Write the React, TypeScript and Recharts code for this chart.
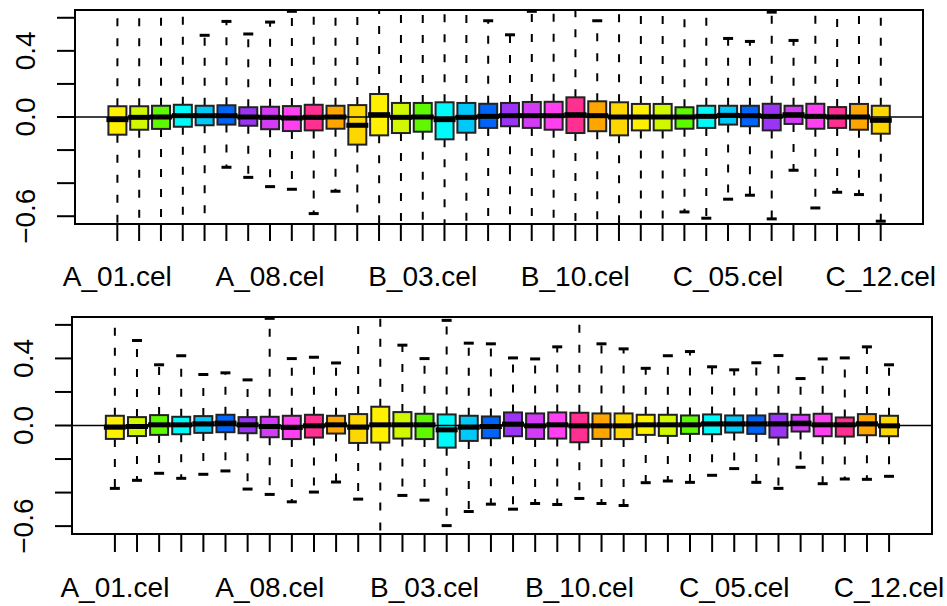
import React from 'react';
import { ComposedChart, Bar, XAxis, YAxis, ReferenceLine, ReferenceArea } from 'recharts';

const samples = [
  'A_01.cel', 'A_02.cel', 'A_03.cel', 'A_04.cel', 'A_05.cel', 'A_06.cel', 'A_07.cel', 'A_08.cel', 'A_09.cel', 'A_10.cel', 'A_11.cel', 'A_12.cel',
  'B_01.cel', 'B_02.cel', 'B_03.cel', 'B_04.cel', 'B_05.cel', 'B_06.cel', 'B_07.cel', 'B_08.cel', 'B_09.cel', 'B_10.cel', 'B_11.cel', 'B_12.cel',
  'C_01.cel', 'C_02.cel', 'C_03.cel', 'C_04.cel', 'C_05.cel', 'C_06.cel', 'C_07.cel', 'C_08.cel', 'C_09.cel', 'C_10.cel', 'C_11.cel', 'C_12.cel',
];
const shownSamples = ['A_01.cel', 'A_08.cel', 'B_03.cel', 'B_10.cel', 'C_05.cel', 'C_12.cel'];
const boxColors = ['#FFF000', '#D2F800', '#5EF800', '#00FAFA', '#00C8F8', '#0064F8', '#9B35F5', '#D23CF5', '#FF40F0', '#FF3090', '#FFA500', '#FFD700'];

const yTicks = [-0.6, -0.4, -0.2, 0, 0.2, 0.4, 0.6];
const yLabelValues = [0.4, 0, -0.6];
const yLabelTexts = ['0.4', '0.0', '\u22120.6'];

// Panel 1 (top)
const max1 = [0.7, 0.7, 0.7, 0.7, 0.494, 0.578, 0.502, 0.574, 0.639, 0.7, 0.7, 0.7, 0.7, 0.7, 0.7, 0.7, 0.7, 0.582, 0.497, 0.639, 0.7, 0.7, 0.582, 0.7, 0.7, 0.7, 0.7, 0.7, 0.475, 0.457, 0.634, 0.463, 0.7, 0.7, 0.7, 0.7];
const q3_1 = [0.065, 0.065, 0.068, 0.074, 0.068, 0.071, 0.059, 0.062, 0.066, 0.074, 0.068, 0.072, 0.139, 0.085, 0.085, 0.089, 0.085, 0.080, 0.085, 0.091, 0.092, 0.119, 0.095, 0.089, 0.079, 0.079, 0.059, 0.068, 0.068, 0.068, 0.080, 0.068, 0.080, 0.060, 0.079, 0.068];
const med1 = [-0.016, -0.002, 0, 0.008, 0.008, 0.008, 0, -0.002, -0.006, -0.002, 0, -0.05, 0.014, -0.002, 0, -0.016, -0.002, 0.004, 0.008, 0.008, 0.008, 0.014, 0.008, 0, 0, 0, 0, 0.004, 0.01, 0.008, 0.004, 0.014, 0.004, 0, 0, -0.02];
const q1_1 = [-0.107, -0.077, -0.072, -0.059, -0.050, -0.046, -0.053, -0.074, -0.085, -0.081, -0.071, -0.167, -0.111, -0.097, -0.089, -0.135, -0.095, -0.066, -0.056, -0.066, -0.077, -0.097, -0.086, -0.111, -0.081, -0.081, -0.071, -0.066, -0.046, -0.056, -0.081, -0.042, -0.071, -0.066, -0.077, -0.101];
const min1 = [-0.7, -0.7, -0.7, -0.7, -0.7, -0.304, -0.365, -0.421, -0.437, -0.584, -0.449, -0.7, -0.7, -0.7, -0.7, -0.7, -0.7, -0.7, -0.7, -0.7, -0.7, -0.7, -0.7, -0.7, -0.7, -0.7, -0.574, -0.612, -0.497, -0.473, -0.616, -0.322, -0.55, -0.455, -0.469, -0.63];

// Panel 2 (bottom)
const max2 = [0.7, 0.507, 0.362, 0.416, 0.304, 0.314, 0.272, 0.639, 0.399, 0.407, 0.373, 0.7, 0.7, 0.479, 0.399, 0.627, 0.491, 0.487, 0.403, 0.397, 0.469, 0.7, 0.487, 0.457, 0.341, 0.416, 0.441, 0.35, 0.332, 0.374, 0.417, 0.28, 0.397, 0.403, 0.469, 0.362];
const q3_2 = [0.058, 0.05, 0.062, 0.052, 0.056, 0.064, 0.05, 0.052, 0.058, 0.064, 0.058, 0.068, 0.112, 0.08, 0.07, 0.066, 0.058, 0.054, 0.078, 0.072, 0.078, 0.076, 0.072, 0.072, 0.064, 0.064, 0.06, 0.066, 0.06, 0.06, 0.07, 0.064, 0.07, 0.048, 0.068, 0.058];
const med2 = [-0.01, -0.006, 0.004, 0.004, 0.01, 0.014, 0.004, -0.006, -0.012, -0.002, 0.004, -0.01, 0.004, 0.004, 0.004, -0.026, -0.01, -0.006, 0.008, -0.002, 0.004, -0.002, -0.002, -0.002, 0.004, 0.004, 0.004, 0.01, 0.01, 0.01, 0.01, 0.014, 0.004, 0.004, 0.01, -0.002];
const q1_2 = [-0.08, -0.063, -0.056, -0.052, -0.044, -0.04, -0.046, -0.07, -0.081, -0.072, -0.048, -0.104, -0.102, -0.078, -0.081, -0.132, -0.092, -0.076, -0.064, -0.08, -0.078, -0.1, -0.08, -0.081, -0.056, -0.062, -0.05, -0.052, -0.042, -0.05, -0.072, -0.036, -0.064, -0.066, -0.058, -0.064];
const min2 = [-0.375, -0.327, -0.285, -0.315, -0.291, -0.271, -0.379, -0.411, -0.455, -0.397, -0.337, -0.439, -0.7, -0.417, -0.445, -0.597, -0.513, -0.469, -0.499, -0.465, -0.471, -0.435, -0.465, -0.477, -0.341, -0.331, -0.339, -0.297, -0.257, -0.339, -0.375, -0.249, -0.347, -0.319, -0.321, -0.303];

const X_DOMAIN: [number, number] = [-0.94, 37.94];
const Y_DOMAIN: [number, number] = [-0.647, 0.647];
const FONT = "'Liberation Sans', Arial, Helvetica, sans-serif";

const positions = samples.map((_, i) => i + 1);

function buildRows(mins: number[], q1s: number[], meds: number[], q3s: number[], maxs: number[]) {
  return samples.map((name, i) => ({
    pos: i + 1,
    name,
    idx: i,
    range: [mins[i], maxs[i]],
    q1: q1s[i],
    med: meds[i],
    q3: q3s[i],
  }));
}

const rows1 = buildRows(min1, q1_1, med1, q3_1, max1);
const rows2 = buildRows(min2, q1_2, med2, q3_2, max2);

function BoxShape(props: any) {
  const { x, y, width, height, payload } = props;
  if (!payload || x == null || y == null) return <g />;
  const [lo, hi] = payload.range;
  const top = Math.min(y, y + height);
  const bottom = Math.max(y, y + height);
  const px = (v: number) => top + ((hi - v) / (hi - lo)) * (bottom - top);
  const cx = x + width / 2;
  const yq3 = px(payload.q3);
  const yq1 = px(payload.q1);
  const ymed = px(payload.med);
  const capHalf = 5;
  const color = boxColors[payload.idx % boxColors.length];
  return (
    <g>
      <line x1={cx} y1={yq3} x2={cx} y2={top} stroke="#000" strokeWidth={2} strokeDasharray="8 12" />
      <line x1={cx} y1={yq1} x2={cx} y2={bottom} stroke="#000" strokeWidth={2} strokeDasharray="8 12" />
      <line x1={cx - capHalf} y1={top} x2={cx + capHalf} y2={top} stroke="#000" strokeWidth={3} />
      <line x1={cx - capHalf} y1={bottom} x2={cx + capHalf} y2={bottom} stroke="#000" strokeWidth={3} />
      <rect x={x} y={yq3} width={width} height={yq1 - yq3} fill={color} stroke="#222" strokeWidth={2} />
      <rect x={x - 2} y={ymed - 2.5} width={width + 4} height={5} fill="#000" />
    </g>
  );
}

function XTick(props: any) {
  const { x, y, payload } = props;
  const label = samples[Math.round(payload.value) - 1];
  if (!shownSamples.includes(label)) return <g />;
  return (
    <text x={x} y={y + 45} textAnchor="middle" fontSize={28} fontFamily={FONT} fill="#000">
      {label}
    </text>
  );
}

function YTick(props: any) {
  const { x, y, payload } = props;
  const k = yLabelValues.findIndex((v) => Math.abs(v - payload.value) < 1e-9);
  if (k < 0) return <g />;
  const bx = x - 22;
  return (
    <text
      x={bx}
      y={y}
      transform={`rotate(-90, ${bx}, ${y})`}
      textAnchor="middle"
      fontSize={28}
      fontFamily={FONT}
      fill="#000"
    >
      {yLabelTexts[k]}
    </text>
  );
}

function Panel(props: { rows: any[]; height: number; margin: any; yWidth: number; xHeight: number; barSize: number; xTickSize: number; yTickSize: number }) {
  const { rows, height, margin, yWidth, xHeight, barSize, xTickSize, yTickSize } = props;
  return (
    <ComposedChart width={947} height={height} data={rows} margin={margin} style={{ display: 'block' }}>
      <XAxis
        dataKey="pos"
        type="number"
        domain={X_DOMAIN}
        allowDataOverflow
        ticks={positions}
        interval={0}
        tickSize={xTickSize}
        tickMargin={0}
        axisLine={false}
        tickLine={{ stroke: '#000', strokeWidth: 2 }}
        tick={<XTick />}
        height={xHeight}
      />
      <YAxis
        type="number"
        domain={Y_DOMAIN}
        allowDataOverflow
        ticks={yTicks}
        interval={0}
        tickSize={yTickSize}
        tickMargin={0}
        axisLine={false}
        tickLine={{ stroke: '#000', strokeWidth: 2 }}
        tick={<YTick />}
        width={yWidth}
      />
      <ReferenceLine y={0} stroke="#000" strokeWidth={1.3} ifOverflow="hidden" />
      <Bar dataKey="range" barSize={barSize} shape={<BoxShape />} isAnimationActive={false} />
      <ReferenceArea
        x1={X_DOMAIN[0]}
        x2={X_DOMAIN[1]}
        y1={Y_DOMAIN[0]}
        y2={Y_DOMAIN[1]}
        fill="none"
        fillOpacity={0}
        stroke="#000"
        strokeWidth={2}
        ifOverflow="visible"
      />
    </ComposedChart>
  );
}

export default function App() {
  return (
    <div style={{ position: 'absolute', left: 0, top: 0, width: 947, height: 606, background: '#fff' }}>
      <Panel rows={rows1} height={300} margin={{ top: 10, right: 24, bottom: 0, left: 0 }} yWidth={75} xHeight={76} barSize={18} xTickSize={17} yTickSize={18} />
      <Panel rows={rows2} height={306} margin={{ top: 17, right: 15, bottom: 0, left: 0 }} yWidth={72} xHeight={72} barSize={18} xTickSize={18} yTickSize={17} />
    </div>
  );
}
